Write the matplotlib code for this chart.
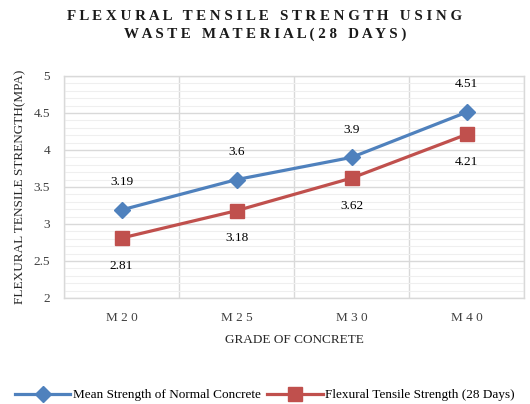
import matplotlib.pyplot as plt
import numpy as np
from matplotlib.ticker import MultipleLocator

plt.rcParams['font.family'] = ['Liberation Serif']

grades = ['M 2 0', 'M 2 5', 'M 3 0', 'M 4 0']
mean_strength = [3.19, 3.6, 3.9, 4.51]
flexural_28 = [2.81, 3.18, 3.62, 4.21]

blue = '#4F81BD'
red = '#C0504D'

fig = plt.figure(figsize=(5.3, 4.04), dpi=100)
ax = fig.add_axes([0.1208, 0.2624, 0.868, 0.5495])

x = np.arange(len(grades))
ax.plot(x, mean_strength, color=blue, lw=2.3, marker='D', ms=8, label='Mean Strength of Normal Concrete', zorder=3)
ax.plot(x, flexural_28, color=red, lw=2.3, marker='s', ms=10, label='Flexural Tensile Strength (28 Days)', zorder=3)

# value labels: blue above, red below
for xi, v in zip(x, mean_strength):
    ax.annotate(f'{v:g}', (xi, v), xytext=(0, 20), textcoords='offset points',
                ha='center', va='center', fontsize=9.5)
for xi, v in zip(x, flexural_28):
    ax.annotate(f'{v:g}', (xi, v), xytext=(0, -20), textcoords='offset points',
                ha='center', va='center', fontsize=9.5)

ax.set_xlim(-0.5, 3.5)
ax.set_ylim(2, 5)
ax.yaxis.set_major_locator(MultipleLocator(0.5))
ax.yaxis.set_minor_locator(MultipleLocator(0.1))
ax.set_yticklabels([f'{t:g}' for t in ax.get_yticks()])
ax.set_xticks(x)
ax.set_xticklabels(grades)
ax.set_xticks(np.arange(-0.5, 4, 1), minor=True)
ax.tick_params(which='both', length=0, labelsize=9.5, colors='#404040')
ax.tick_params(axis='x', pad=10)
ax.tick_params(axis='y', pad=10)

ax.grid(which='major', axis='y', color='#D9D9D9', lw=1.0)
ax.grid(which='minor', axis='y', color='#EFEFEF', lw=0.8)
ax.grid(which='minor', axis='x', color='#D9D9D9', lw=1.0)
ax.set_axisbelow(True)
for s in ax.spines.values():
    s.set_color('#D9D9D9')
    s.set_linewidth(1.0)

ax.set_xlabel('GRADE OF CONCRETE', fontsize=9.5, color='#262626', labelpad=7)
ax.set_ylabel('FLEXURAL TENSILE STRENGTH(MPA)', fontsize=9.5, color='#262626', labelpad=5)

fig.text(0.5, 0.958, 'F L E X U R A L   T E N S I L E   S T R E N G T H   U S I N G',
         ha='center', va='center', fontsize=10.8, fontweight='bold', color='#1a1a1a')
fig.text(0.5, 0.915, 'W A S T E   M A T E R I A L ( 2 8   D A Y S )',
         ha='center', va='center', fontsize=10.8, fontweight='bold', color='#1a1a1a')

fig.legend(loc='center', bbox_to_anchor=(0.5, 0.022), ncol=2, frameon=False,
           fontsize=9.5, handlelength=4.2, columnspacing=0.5, handletextpad=0.2)

fig.savefig('out.png', dpi=100)
